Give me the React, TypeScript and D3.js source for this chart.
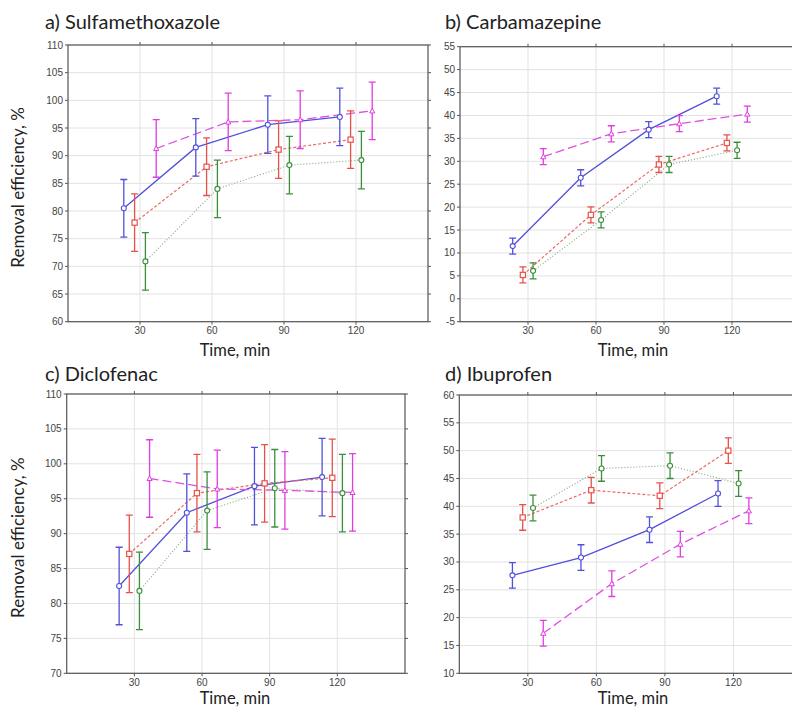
import React from "react";
import * as d3 from "d3";

// ---- Data ----
const times = [30, 60, 90, 120];
const seriesNames = ["S1", "S2", "S3", "S4"];

// a) Sulfamethoxazole
const sulfaBlue = [80.5, 91.5, 95.6, 97.0];
const sulfaRed = [77.9, 88.0, 91.1, 92.9];
const sulfaGreen = [70.9, 84.0, 88.3, 89.2];
const sulfaMagenta = [91.3, 96.1, 96.5, 98.1];
const sulfaErr = [5.2, 5.2, 5.2, 5.2];

// b) Carbamazepine
const carbaBlue = [11.5, 26.4, 36.9, 44.2];
const carbaRed = [5.2, 18.3, 29.3, 34.0];
const carbaGreen = [6.1, 17.2, 29.3, 32.4];
const carbaMagenta = [31.0, 36.0, 38.2, 40.3];
const carbaErr = [1.75, 1.75, 1.75, 1.75];

// c) Diclofenac
const dicloBlue = [82.5, 93.0, 96.8, 98.1];
const dicloRed = [87.1, 95.8, 97.2, 98.0];
const dicloGreen = [81.8, 93.3, 96.5, 95.8];
const dicloMagenta = [97.9, 96.4, 96.2, 95.9];
const dicloErr = [5.55, 5.55, 5.55, 5.55];

// d) Ibuprofen
const ibuBlue = [27.6, 30.8, 35.8, 42.3];
const ibuRed = [38.0, 42.9, 41.9, 50.0];
const ibuGreen = [39.7, 46.8, 47.3, 44.1];
const ibuMagenta = [17.2, 26.1, 33.2, 39.2];
const ibuErr = [2.3, 2.3, 2.3, 2.3];

const xTicks = [30, 60, 90, 120];

const panels = [
  {
    title: "a) Sulfamethoxazole",
    series: [sulfaBlue, sulfaRed, sulfaGreen, sulfaMagenta],
    err: sulfaErr,
    yDomain: [60, 110],
    yTicks: d3.range(60, 111, 5),
    box: { x0: 68, x1: 428, y0: 45, y1: 321.7 },
    titlePos: [45, 29],
    xLabelPos: [235, 356],
    yLabel: true,
  },
  {
    title: "b) Carbamazepine",
    series: [carbaBlue, carbaRed, carbaGreen, carbaMagenta],
    err: carbaErr,
    yDomain: [-5, 55],
    yTicks: d3.range(-5, 56, 5),
    box: { x0: 460, x1: 800, y0: 46.7, y1: 321.7 },
    titlePos: [445, 29],
    xLabelPos: [633, 356],
    yLabel: false,
  },
  {
    title: "c) Diclofenac",
    series: [dicloBlue, dicloRed, dicloGreen, dicloMagenta],
    err: dicloErr,
    yDomain: [70, 110],
    yTicks: d3.range(70, 111, 5),
    box: { x0: 66.7, x1: 405, y0: 394, y1: 673.3 },
    titlePos: [45, 381],
    xLabelPos: [235, 704],
    yLabel: true,
  },
  {
    title: "d) Ibuprofen",
    series: [ibuBlue, ibuRed, ibuGreen, ibuMagenta],
    err: ibuErr,
    yDomain: [10, 60],
    yTicks: d3.range(10, 61, 5),
    box: { x0: 459.3, x1: 802, y0: 395, y1: 673.3 },
    titlePos: [445, 381],
    xLabelPos: [633, 704],
    yLabel: false,
  },
];

const styles = [
  { color: "#5050dc", dash: null, width: 1.3, marker: "circle", offset: -6.75, lineColor: "#5050dc" },
  { color: "#e8504a", dash: "3,2", width: 1.2, marker: "square", offset: -2.25, lineColor: "#ec6a64" },
  { color: "#3a8f3a", dash: "1,2", width: 1.1, marker: "circle", offset: 2.25, lineColor: "#7aa87a" },
  { color: "#e03ce0", dash: "9,4", width: 1.3, marker: "triangle", offset: 6.75, lineColor: "#e050e0" },
];

const labelFont = "Lato, 'Open Sans', sans-serif";
const tickFont = "'Liberation Sans', Arial, sans-serif";

function Marker({ type, x, y, color }: any) {
  if (type === "square") {
    return <rect x={x - 2.6} y={y - 2.6} width={5.2} height={5.2} fill="#fff" stroke={color} strokeWidth={1.2} />;
  }
  if (type === "triangle") {
    const s = 2.6;
    const p = `${x},${y - s} ${x + s},${y + s * 0.8} ${x - s},${y + s * 0.8}`;
    return <polygon points={p} fill="#fff" stroke={color} strokeWidth={1} />;
  }
  return <circle cx={x} cy={y} r={2.5} fill="#fff" stroke={color} strokeWidth={1.1} />;
}

function Panel({ p }: any) {
  const { x0, x1, y0, y1 } = p.box;
  const x = d3.scaleLinear().domain([0, 150]).range([x0, x1]);
  const y = d3.scaleLinear().domain(p.yDomain).range([y1, y0]);
  const clipId = "clip-" + p.title.charAt(0);
  return (
    <g>
      <defs>
        <clipPath id={clipId}>
          <rect x={x0} y={y0 - 10} width={x1 - x0} height={y1 - y0 + 20} />
        </clipPath>
      </defs>
      <rect x={x0} y={y0} width={x1 - x0} height={y1 - y0} fill="#fff" />
      {p.yTicks.map((t: number) => (
        <line key={"gy" + t} x1={x0} x2={x1} y1={y(t)} y2={y(t)} stroke="#e2e2e2" strokeWidth={1} />
      ))}
      {xTicks.map((t) => (
        <line key={"gx" + t} x1={x(t)} x2={x(t)} y1={y0} y2={y1} stroke="#e2e2e2" strokeWidth={1} />
      ))}
      {p.yTicks.map((t: number) => (
        <g key={"tm" + t}>
          <line x1={x0 - 3} x2={x0} y1={y(t)} y2={y(t)} stroke="#555" strokeWidth={1} />
          <line x1={x1} x2={x1 + 3} y1={y(t)} y2={y(t)} stroke="#555" strokeWidth={1} />
        </g>
      ))}
      {xTicks.map((t) => (
        <g key={"txm" + t}>
          <line x1={x(t)} x2={x(t)} y1={y1} y2={y1 + 3} stroke="#555" strokeWidth={1} />
          <line x1={x(t)} x2={x(t)} y1={y0 - 3} y2={y0} stroke="#555" strokeWidth={1} />
        </g>
      ))}
      <rect x={x0} y={y0} width={x1 - x0} height={y1 - y0} fill="none" stroke="#555" strokeWidth={1.2} />
      {p.yTicks.map((t: number) => (
        <text key={"ty" + t} x={x0 - 5} y={y(t) + 3.5} textAnchor="end" fontFamily={tickFont} fontSize={10} fill="#444">
          {t}
        </text>
      ))}
      {xTicks.map((t) => (
        <text key={"tx" + t} x={x(t)} y={y1 + 12.5} textAnchor="middle" fontFamily={tickFont} fontSize={10} fill="#444">
          {t}
        </text>
      ))}
      <g clipPath={`url(#${clipId})`}>
        {p.series.map((vals: number[], si: number) => {
          const st = styles[si];
          const pts = vals.map((v, i) => [x(times[i] + st.offset), y(v)] as [number, number]);
          const line = d3.line()(pts) || "";
          return (
            <path
              key={"s" + si}
              d={line}
              fill="none"
              stroke={st.lineColor}
              strokeWidth={st.width}
              strokeDasharray={st.dash || undefined}
            />
          );
        })}
        {p.series.map((vals: number[], si: number) => {
          const st = styles[si];
          return (
            <g key={"e" + si}>
              {vals.map((v, i) => {
                const cx = x(times[i] + st.offset);
                const top = y(v + p.err[i]);
                const bot = y(v - p.err[i]);
                return (
                  <g key={i}>
                    <line x1={cx} x2={cx} y1={top} y2={bot} stroke={st.color} strokeWidth={1.3} />
                    <line x1={cx - 3.5} x2={cx + 3.5} y1={top} y2={top} stroke={st.color} strokeWidth={1.3} />
                    <line x1={cx - 3.5} x2={cx + 3.5} y1={bot} y2={bot} stroke={st.color} strokeWidth={1.3} />
                    <Marker type={st.marker} x={cx} y={y(v)} color={st.color} />
                  </g>
                );
              })}
            </g>
          );
        })}
      </g>
      <text x={p.titlePos[0]} y={p.titlePos[1]} fontFamily={labelFont} fontSize={20} fill="#222">
        {p.title}
      </text>
      <text x={p.xLabelPos[0]} y={p.xLabelPos[1]} textAnchor="middle" fontFamily={labelFont} fontSize={16.5} fill="#222">
        Time, min
      </text>
      {p.yLabel && (
        <text
          transform={`translate(24, ${(y0 + y1) / 2 + 4}) rotate(-90)`}
          textAnchor="middle"
          fontFamily={labelFont}
          fontSize={17}
          fill="#222"
        >
          Removal efficiency, %
        </text>
      )}
    </g>
  );
}

export default function App() {
  return (
    <svg width={792} height={707} style={{ position: "absolute", left: 0, top: 0, background: "#fff" }}>
      <rect width={792} height={707} fill="#fff" />
      {panels.map((p) => (
        <Panel key={p.title} p={p} />
      ))}
    </svg>
  );
}
